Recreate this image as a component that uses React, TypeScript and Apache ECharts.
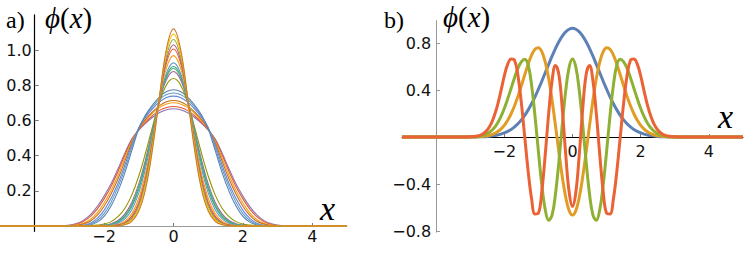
import React, { useEffect, useRef } from "react";
import * as echarts from "echarts";

// ---------- panel a) : family of profiles ----------
const xA = [-5, -3.2, -3, -2.8, -2.6, -2.4, -2.2, -2, -1.8, -1.6, -1.4, -1.2, -1, -0.8, -0.6, -0.4, -0.2, 0, 0.2, 0.4, 0.6, 0.8, 1, 1.2, 1.4, 1.6, 1.8, 2, 2.2, 2.4, 2.6, 2.8, 3, 3.2, 5];

const a00 = [0, .001, .005, .014, .032, .063, .11, .17, .24, .325, .415, .495, .545, .585, .618, .645, .661, .666, .661, .645, .618, .585, .545, .495, .415, .325, .24, .17, .11, .063, .032, .014, .005, .001, 0];
const a01 = [0, .001, .003, .010, .026, .053, .096, .154, .224, .310, .403, .489, .548, .591, .628, .657, .673, .679, .673, .657, .628, .591, .548, .489, .403, .310, .224, .154, .096, .053, .026, .010, .003, .001, 0];
const a02 = [0, 0, .001, .005, .015, .037, .075, .131, .202, .288, .387, .482, .553, .602, .642, .674, .693, .700, .693, .674, .642, .602, .553, .482, .387, .288, .202, .131, .075, .037, .015, .005, .001, 0, 0];
const a03 = [0, 0, 0, .003, .011, .027, .060, .112, .182, .267, .369, .473, .554, .607, .650, .684, .706, .713, .706, .684, .650, .607, .554, .473, .369, .267, .182, .112, .060, .027, .011, .003, 0, 0, 0];
const a04 = [0, 0, 0, .001, .005, .016, .043, .089, .157, .242, .347, .462, .559, .619, .667, .705, .730, .738, .730, .705, .667, .619, .559, .462, .347, .242, .157, .089, .043, .016, .005, .001, 0, 0, 0];
const a05 = [0, 0, 0, 0, .003, .011, .031, .070, .135, .221, .326, .448, .559, .627, .678, .720, .747, .756, .747, .720, .678, .627, .559, .448, .326, .221, .135, .070, .031, .011, .003, 0, 0, 0, 0];
const a06 = [0, 0, 0, 0, .001, .006, .022, .055, .114, .197, .303, .430, .552, .633, .689, .734, .764, .774, .764, .734, .689, .633, .552, .430, .303, .197, .114, .055, .022, .006, .001, 0, 0, 0, 0];
const a07 = [0, 0, 0, 0, .001, .002, .005, .011, .025, .053, .101, .177, .284, .419, .568, .705, .803, .838, .803, .705, .568, .419, .284, .177, .101, .053, .025, .011, .005, .002, .001, 0, 0, 0, 0];
const a08 = [0, 0, 0, 0, 0, .001, .002, .005, .013, .031, .069, .135, .239, .382, .550, .713, .833, .878, .833, .713, .550, .382, .239, .135, .069, .031, .013, .005, .002, .001, 0, 0, 0, 0, 0];
const a09 = [0, 0, 0, 0, 0, 0, .001, .004, .010, .026, .059, .121, .223, .368, .543, .717, .847, .895, .847, .717, .543, .368, .223, .121, .059, .026, .010, .004, .001, 0, 0, 0, 0, 0, 0];
const a10 = [0, 0, 0, 0, 0, 0, .001, .003, .008, .022, .052, .111, .210, .356, .535, .717, .855, .906, .855, .717, .535, .356, .210, .111, .052, .022, .008, .003, .001, 0, 0, 0, 0, 0, 0];
const a11 = [0, 0, 0, 0, 0, 0, 0, .002, .005, .016, .041, .093, .188, .334, .522, .718, .870, .927, .870, .718, .522, .334, .188, .093, .041, .016, .005, .002, 0, 0, 0, 0, 0, 0, 0];
const a12 = [0, 0, 0, 0, 0, 0, 0, .001, .003, .009, .028, .071, .158, .303, .504, .724, .900, .968, .900, .724, .504, .303, .158, .071, .028, .009, .003, .001, 0, 0, 0, 0, 0, 0, 0];
const a13 = [0, 0, 0, 0, 0, 0, 0, 0, .002, .006, .020, .056, .136, .280, .490, .730, .929, 1.006, .929, .730, .490, .280, .136, .056, .020, .006, .002, 0, 0, 0, 0, 0, 0, 0, 0];
const a14 = [0, 0, 0, 0, 0, 0, 0, 0, .001, .005, .016, .048, .123, .264, .479, .733, .946, 1.030, .946, .733, .479, .264, .123, .048, .016, .005, .001, 0, 0, 0, 0, 0, 0, 0, 0];
const a15 = [0, 0, 0, 0, 0, 0, 0, 0, .001, .003, .013, .041, .110, .249, .469, .738, .968, 1.060, .968, .738, .469, .249, .110, .041, .013, .003, .001, 0, 0, 0, 0, 0, 0, 0, 0];
const a16 = [0, 0, 0, 0, 0, 0, 0, 0, 0, .002, .010, .034, .097, .232, .457, .741, .990, 1.090, .990, .741, .457, .232, .097, .034, .010, .002, 0, 0, 0, 0, 0, 0, 0, 0, 0];
const a17 = [0, 0, 0, 0, 0, 0, 0, 0, 0, .002, .007, .027, .085, .214, .442, .741, 1.010, 1.120, 1.010, .741, .442, .214, .085, .027, .007, .002, 0, 0, 0, 0, 0, 0, 0, 0, 0];

const curvesA = [a00, a01, a02, a03, a04, a05, a06, a07, a08, a09, a10, a11, a12, a13, a14, a15, a16, a17];
const colorsA = ["#8778B3", "#E95536", "#F89F13", "#C56E1A", "#6685D9", "#5D9EC7", "#5E81B5", "#929600", "#A5609D", "#47B66D", "#3FA58A", "#5D9EC7", "#F89F13", "#EB6235", "#BC5B80", "#8FB032", "#FFBF00", "#C97A2E"];

// ---------- panel b) : four states ----------
const xB = [-5, -3.2, -3.1, -3, -2.9, -2.8, -2.7, -2.6, -2.5, -2.4, -2.3, -2.2, -2.1, -2, -1.9, -1.8, -1.7, -1.6, -1.5, -1.4, -1.3, -1.2, -1.1, -1, -0.9, -0.8, -0.7, -0.6, -0.5, -0.4, -0.3, -0.2, -0.1, 0, 0.1, 0.2, 0.3, 0.4, 0.5, 0.6, 0.7, 0.8, 0.9, 1, 1.1, 1.2, 1.3, 1.4, 1.5, 1.6, 1.7, 1.8, 1.9, 2, 2.1, 2.2, 2.3, 2.4, 2.5, 2.6, 2.7, 2.8, 2.9, 3, 3.1, 3.2, 5];

const b0 = [0, 0, 0, 0, .001, .001, .002, .003, .005, .008, .012, .017, .025, .035, .048, .065, .086, .113, .146, .185, .231, .283, .342, .407, .475, .547, .618, .688, .753, .811, .859, .895, .917, .925, .917, .895, .859, .811, .753, .688, .618, .547, .475, .407, .342, .283, .231, .185, .146, .113, .086, .065, .048, .035, .025, .017, .012, .008, .005, .003, .002, .001, .001, 0, 0, 0, 0];
const b2 = [0, 0, 0, .001, .001, .002, .004, .006, .011, .017, .028, .044, .067, .099, .142, .198, .266, .346, .436, .530, .620, .697, .747, .760, .726, .639, .500, .315, .099, -.127, -.338, -.511, -.625, -.664, -.625, -.511, -.338, -.127, .099, .315, .500, .639, .726, .760, .747, .697, .620, .530, .436, .346, .266, .198, .142, .099, .067, .044, .028, .017, .011, .006, .004, .002, .001, .001, 0, 0, 0];
const b4 = [0, 0, 0, .001, .002, .004, .008, .016, .028, .048, .077, .118, .173, .243, .325, .415, .505, .585, .640, .662, .614, .442, .180, -.123, -.407, -.616, -.709, -.665, -.487, -.212, .103, .391, .593, .665, .593, .391, .103, -.212, -.487, -.665, -.709, -.616, -.407, -.123, .180, .442, .614, .662, .640, .585, .505, .415, .325, .243, .173, .118, .077, .048, .028, .016, .008, .004, .002, .001, 0, 0, 0];
const b6 = [0, 0, .001, .002, .004, .008, .016, .032, .060, .105, .175, .270, .390, .520, .620, .665, .653, .524, .290, -.001, -.292, -.526, -.655, -.648, -.464, -.153, .195, .477, .609, .532, .242, -.144, -.466, -.590, -.466, -.144, .242, .532, .609, .477, .195, -.153, -.464, -.648, -.655, -.526, -.292, -.001, .290, .524, .653, .665, .620, .520, .390, .270, .175, .105, .060, .032, .016, .008, .004, .002, .001, 0, 0];

const curvesB = [b0, b2, b4, b6];
const colorsB = ["#5E81B5", "#E19C24", "#8FB032", "#EB6235"];

const xTickValues = [-2, 0, 2, 4];
const yTickValuesA = [0.2, 0.4, 0.6, 0.8, 1.0];
const yTickValuesB = [-0.8, -0.4, 0.4, 0.8];

const rangeA = { xMin: -5, xMax: 5, yMin: -0.03, yMax: 1.2, yAxisAt: -4 };
const rangeB = { xMin: -5, xMax: 5, yMin: -0.81, yMax: 0.99, yAxisAt: -4 };

function fmt(v: number, d: number) {
  const s = Math.abs(v).toFixed(d);
  return v < 0 ? "\u2212" + s : s;
}

export default function App() {
  const ref = useRef<HTMLDivElement>(null);
  useEffect(() => {
    const chart = echarts.init(ref.current as HTMLDivElement, null, { renderer: "svg" });
    const lab = { fontFamily: "DejaVu Sans", fontSize: 16, color: "#111" };
    const serif = '"Liberation Serif", "DejaVu Serif", serif';

    const gridA = { left: 0, top: 14.8, width: 347, height: 216.5 };
    const gridB = { left: 402, top: 20.7, width: 341, height: 211.5 };

    // place the x axis on y = 0 and the y axis on x = -4
    const xOff = (g: any, r: any) => -((0 - r.yMin) / (r.yMax - r.yMin)) * g.height;
    const yOff = (g: any, r: any) => -((r.yAxisAt - r.xMin) / (r.xMax - r.xMin)) * g.width;

    const xAxisCommon = (gridIndex: number, lineColor: string, offset: number, margin: number) => ({
      type: "value",
      gridIndex,
      min: -5,
      max: 5,
      position: "bottom",
      offset,
      axisLine: { show: true, onZero: false, lineStyle: { color: lineColor, width: 1 } },
      axisTick: { show: true, customValues: xTickValues, inside: true, length: 3, lineStyle: { color: "#777" } },
      axisLabel: { customValues: xTickValues, formatter: (v: number) => fmt(v, 0), margin, ...lab },
      splitLine: { show: false },
    });

    const seriesA = curvesA.map((ys, k) => ({
      type: "line",
      xAxisIndex: 0,
      yAxisIndex: 0,
      data: xA.map((x, i) => [x, ys[i]]),
      smooth: 0.4,
      showSymbol: false,
      symbol: "none",
      lineStyle: { color: colorsA[k], width: 1.1 },
      itemStyle: { color: colorsA[k] },
      z: 3,
    }));

    const seriesB = curvesB.map((ys, k) => ({
      type: "line",
      xAxisIndex: 1,
      yAxisIndex: 1,
      data: xB.map((x, i) => [x, ys[i]]),
      smooth: 0.4,
      showSymbol: false,
      symbol: "none",
      lineStyle: { color: colorsB[k], width: 3 },
      itemStyle: { color: colorsB[k] },
      z: 3,
    }));

    const phiLabel = (x: number, y: number) => ({
      type: "text", x, y,
      style: {
        text: "{i|ϕ}{u|(}{i|x}{u|)}", fill: "#000", align: "left", verticalAlign: "top",
        rich: {
          i: { fontFamily: serif, fontStyle: "italic", fontSize: 29, fill: "#000" },
          u: { fontFamily: serif, fontSize: 29, fill: "#000" },
        },
      },
    });

    const option = {
      animation: false,
      backgroundColor: "#fff",
      grid: [gridA, gridB],
      xAxis: [xAxisCommon(0, "#999", xOff(gridA, rangeA), 2), xAxisCommon(1, "#000", xOff(gridB, rangeB), 6)],
      yAxis: [
        {
          type: "value",
          gridIndex: 0,
          min: rangeA.yMin,
          max: rangeA.yMax,
          position: "left",
          offset: yOff(gridA, rangeA),
          axisLine: { show: true, onZero: false, lineStyle: { color: "#000", width: 1.2 } },
          axisTick: { show: true, customValues: yTickValuesA, inside: true, length: 4, lineStyle: { color: "#777" } },
          axisLabel: { customValues: yTickValuesA, formatter: (v: number) => fmt(v, 1), margin: 3, ...lab },
          splitLine: { show: false },
        },
        {
          type: "value",
          gridIndex: 1,
          min: rangeB.yMin,
          max: rangeB.yMax,
          position: "left",
          offset: yOff(gridB, rangeB),
          axisLine: { show: true, onZero: false, lineStyle: { color: "#999", width: 1 } },
          axisTick: { show: true, customValues: yTickValuesB, inside: true, length: 4, lineStyle: { color: "#999" } },
          axisLabel: { customValues: yTickValuesB, formatter: (v: number) => fmt(v, 1), margin: 5, ...lab },
          splitLine: { show: false },
        },
      ],
      series: [...seriesA, ...seriesB],
      graphic: [
        { type: "text", x: 6, y: 8, style: { text: "a)", font: `24px ${serif}`, fill: "#000", align: "left", verticalAlign: "top" } },
        { type: "text", x: 384, y: 8, style: { text: "b)", font: `24px ${serif}`, fill: "#000", align: "left", verticalAlign: "top" } },
        phiLabel(45, 3),
        phiLabel(443, 2),
        { type: "text", x: 320, y: 191, style: { text: "x", font: `italic 34px ${serif}`, fill: "#000", align: "left", verticalAlign: "top" } },
        { type: "text", x: 718, y: 99, style: { text: "x", font: `italic 34px ${serif}`, fill: "#000", align: "left", verticalAlign: "top" } },
      ],
    };
    chart.setOption(option as any);
    return () => chart.dispose();
  }, []);
  return <div ref={ref} style={{ position: "fixed", left: 0, top: 0, width: 748, height: 257, background: "#fff" }} />;
}
